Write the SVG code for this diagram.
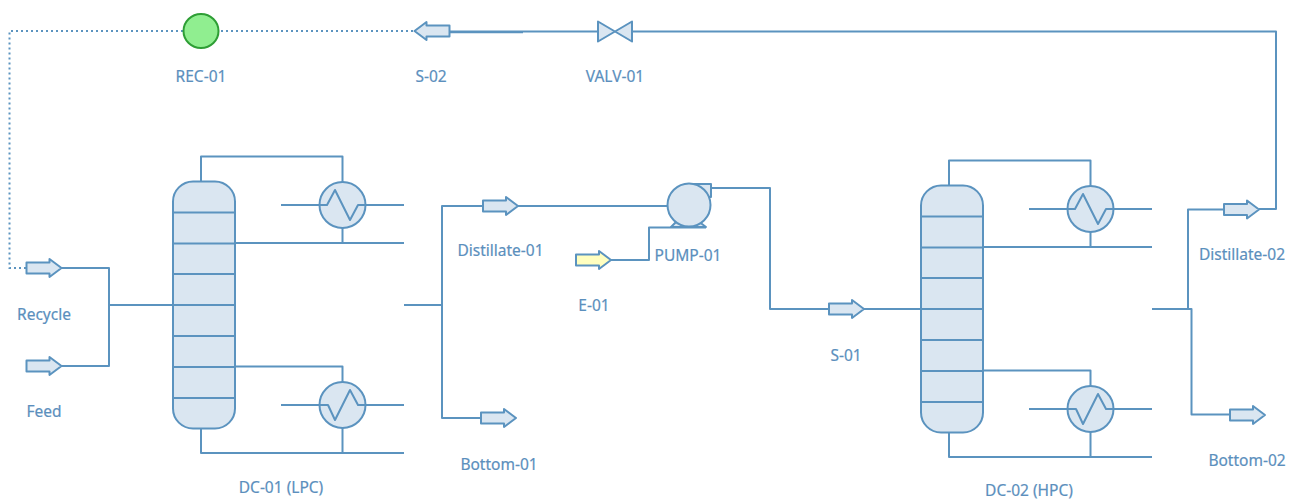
<svg xmlns="http://www.w3.org/2000/svg" width="1296" height="499" viewBox="0 0 1296 499">
<style>
.l{fill:none;stroke:#5b93bf;stroke-width:2;stroke-linejoin:round}
.d{fill:none;stroke:#5b93bf;stroke-width:2;stroke-dasharray:2 3}
.s{fill:#dae6f1;stroke:#5b93bf;stroke-width:2;stroke-linejoin:round}
.y{fill:#ffffc0;stroke:#5b93bf;stroke-width:2;stroke-linejoin:round}
text{font-family:"Noto Sans","Open Sans","DejaVu Sans",sans-serif;font-size:15.500px;fill:#5b8fbd;stroke:#5b8fbd;stroke-width:.2;text-anchor:middle}
</style>
<defs>
<path id="arr" d="M0-5.500H23V-9L35 0L23 9V5.500H0Z"/>
<g id="col">
<rect class="s" x="173" y="181.500" width="62" height="247" rx="20"/>
<path class="l" d="M173 212.500H235M173 243.500H235M173 274H235M173 305H235M173 336H235M173 367H235M173 398H235"/>
</g>
</defs>
<g id="connectors">
<path class="d" d="M26 268H9.500V31H415"/>
<path class="l" d="M449 31.500H597M449 32.200H523M632 31.500H1276V209H1259"/>
<path class="l" d="M61 268H109V366H61M110 305H173"/>
<path class="l" d="M201 181V156.500H342.500V182M342.500 228V243M235 243H404M281 205H404"/>
<path class="l" d="M235 366.500H342.500V382M201 428V453H404M342.500 428V453M281 405H404"/>
<path class="l" d="M404 305H442V206H483M442 305V418H481M517 206H668"/>
<path class="l" d="M610 260H649V227.500H706M711 188H770V309H829M864 309H921"/>
<path class="l" d="M949 185V160.500H1090.500V186M1090.500 232V247M983 247H1152M1029 209H1152"/>
<path class="l" d="M983 370.500H1090.500V386M949 432V457H1152M1090.500 432V457M1029 409H1152"/>
<path class="l" d="M1152 309H1191.500V414.500H1230M1188 309V209.500H1224"/>
</g>
<g id="Recycle"><use href="#arr" class="s" x="26.500" y="268"/><text x="44" y="319.500">Recycle</text></g>
<g id="Feed"><use href="#arr" class="s" x="26.500" y="366"/><text x="44" y="416.500">Feed</text></g>
<g id="REC-01"><ellipse cx="201" cy="31" rx="17.500" ry="17" fill="#90ee90" stroke="#2e9e35" stroke-width="2"/><text x="201" y="81.500">REC-01</text></g>
<g id="S-02"><use href="#arr" class="s" transform="translate(449.500 31) rotate(180)"/><text x="431" y="81.500">S-02</text></g>
<g id="VALV-01"><path class="s" d="M598 21.500L632 41.500V21.500L598 41.500Z"/><text x="615" y="81.500">VALV-01</text></g>
<g id="DC-01"><use href="#col"/><text x="281" y="493">DC-01 (LPC)</text></g>
<g id="E-top-01"><circle class="s" cx="342.500" cy="205" r="23"/><path class="l" d="M320 205H327L335 190L350 220L358 205H366"/></g>
<g id="E-bot-01"><circle class="s" cx="342.500" cy="405" r="23"/><path class="l" d="M320 405H328L335 420L350 390L358 405H366"/></g>
<g id="Distillate-01"><use href="#arr" class="s" x="483" y="206"/><text x="500.500" y="256">Distillate-01</text></g>
<g id="Bottom-01"><use href="#arr" class="s" x="481" y="418"/><text x="499" y="470">Bottom-01</text></g>
<g id="E-01"><use href="#arr" class="y" x="576" y="260"/><text x="594" y="311">E-01</text></g>
<g id="PUMP-01"><path class="s" d="M671 227L677 221H698L706 227Z"/><path class="s" d="M689 184H711V197H689Z"/><circle class="s" cx="689" cy="205" r="21.500"/><text x="688" y="260.500">PUMP-01</text></g>
<g id="S-01"><use href="#arr" class="s" x="829" y="309"/><text x="846" y="360.500">S-01</text></g>
<g id="DC-02"><use href="#col" x="748" y="4"/><text x="1029" y="495.500">DC-02 (HPC)</text></g>
<g id="E-top-02"><circle class="s" cx="1090.500" cy="209" r="23"/><path class="l" d="M1068 209H1075L1083 194L1098 224L1106 209H1114"/></g>
<g id="E-bot-02"><circle class="s" cx="1090.500" cy="409" r="23"/><path class="l" d="M1068 409H1076L1083 424L1098 394L1106 409H1114"/></g>
<g id="Distillate-02"><use href="#arr" class="s" x="1224" y="209.500"/><text x="1242" y="260">Distillate-02</text></g>
<g id="Bottom-02"><use href="#arr" class="s" x="1230" y="415"/><text x="1247" y="466">Bottom-02</text></g>
</svg>
